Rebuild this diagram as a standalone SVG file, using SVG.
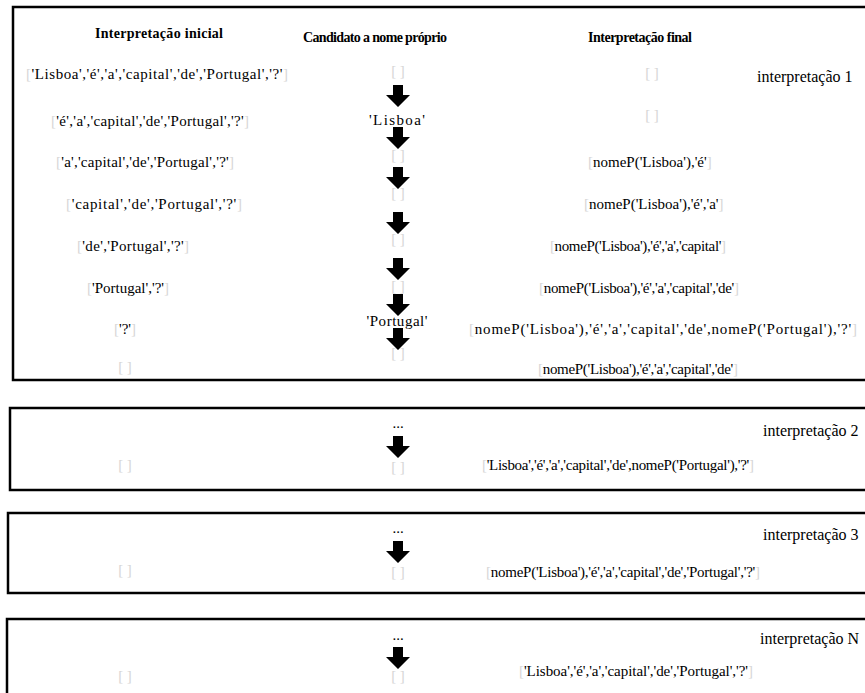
<svg xmlns="http://www.w3.org/2000/svg" width="865" height="693" viewBox="0 0 865 693">
<style>
text{font-family:"Liberation Serif","DejaVu Serif",serif;font-size:15px;font-weight:400;fill:#000}
.h{font-weight:bold;font-size:14px}
.c{text-anchor:middle}
.lab{font-size:16px}
.b{fill:#d6d6d6}
.box{fill:none;stroke:#000;stroke-width:2.5}
.arr{fill:#000}
</style>
<defs>
<path id="arrow" d="M-5,0 H5 V10 H12 L0,22 L-12,10 H-5 Z"/>
</defs>
<g id="box1">
<rect class="box" x="13" y="7" width="870" height="373"/>
<g id="headers">
<text class="h c" x="159" y="38" textLength="128" lengthAdjust="spacing">Interpretação inicial</text>
<text class="h c" x="375" y="42" textLength="144" lengthAdjust="spacing">Candidato a nome próprio</text>
<text class="h c" x="640" y="42" textLength="104" lengthAdjust="spacing">Interpretação final</text>
</g>
<g id="col-initial">
<text class="c" x="157" y="79" textLength="262" lengthAdjust="spacing"><tspan class="b">[</tspan>'Lisboa','é','a','capital','de','Portugal','?'<tspan class="b">]</tspan></text>
<text class="c" x="150" y="126" textLength="198" lengthAdjust="spacing"><tspan class="b">[</tspan>'é','a','capital','de','Portugal','?'<tspan class="b">]</tspan></text>
<text class="c" x="145" y="167" textLength="178" lengthAdjust="spacing"><tspan class="b">[</tspan>'a','capital','de','Portugal','?'<tspan class="b">]</tspan></text>
<text class="c" x="154" y="209" textLength="176" lengthAdjust="spacing"><tspan class="b">[</tspan>'capital','de','Portugal','?'<tspan class="b">]</tspan></text>
<text class="c" x="133" y="251" textLength="112" lengthAdjust="spacing"><tspan class="b">[</tspan>'de','Portugal','?'<tspan class="b">]</tspan></text>
<text class="c" x="128" y="293"><tspan class="b">[</tspan>'Portugal','?'<tspan class="b">]</tspan></text>
<text class="c" x="125" y="334"><tspan class="b">[</tspan>'?'<tspan class="b">]</tspan></text>
<text class="c b" x="125" y="372">[ ]</text>
</g>
<g id="col-candidate">
<text class="c b" x="398" y="76">[ ]</text>
<text class="c" x="397" y="125" textLength="56" lengthAdjust="spacing">'Lisboa'</text>
<text class="c b" x="398" y="160">[ ]</text>
<text class="c b" x="398" y="198">[ ]</text>
<text class="c b" x="398" y="244">[ ]</text>
<text class="c b" x="398" y="291">[ ]</text>
<text class="c" x="397" y="326" textLength="61" lengthAdjust="spacing">'Portugal'</text>
<text class="c b" x="398" y="358">[ ]</text>
</g>
<g id="col-final">
<text class="c b" x="652" y="78">[ ]</text>
<text class="lab" x="757" y="82">interpretação 1</text>
<text class="c b" x="652" y="120">[ ]</text>
<text x="588" y="167"><tspan class="b">[</tspan>nomeP('Lisboa'),'é'<tspan class="b">]</tspan></text>
<text x="584" y="209"><tspan class="b">[</tspan>nomeP('Lisboa'),'é','a'<tspan class="b">]</tspan></text>
<text class="c" x="638" y="251" textLength="176" lengthAdjust="spacing"><tspan class="b">[</tspan>nomeP('Lisboa'),'é','a','capital'<tspan class="b">]</tspan></text>
<text class="c" x="639" y="293" textLength="200" lengthAdjust="spacing"><tspan class="b">[</tspan>nomeP('Lisboa'),'é','a','capital','de'<tspan class="b">]</tspan></text>
<text class="c" x="663" y="334" textLength="388" lengthAdjust="spacing"><tspan class="b">[</tspan>nomeP('Lisboa'),'é','a','capital','de',nomeP('Portugal'),'?'<tspan class="b">]</tspan></text>
<text class="c" x="638" y="374" textLength="200" lengthAdjust="spacing"><tspan class="b">[</tspan>nomeP('Lisboa'),'é','a','capital','de'<tspan class="b">]</tspan></text>
</g>
</g>
<g id="box2">
<rect class="box" x="10" y="408" width="870" height="82"/>
<text class="c b" x="125" y="470">[ ]</text>
<text class="c" x="398" y="428">...</text>
<text class="c b" x="398" y="472">[ ]</text>
<text class="lab" x="763" y="436">interpretação 2</text>
<text class="c" x="618" y="470" textLength="272" lengthAdjust="spacing"><tspan class="b">[</tspan>'Lisboa','é','a','capital','de',nomeP('Portugal'),'?'<tspan class="b">]</tspan></text>
</g>
<g id="box3">
<rect class="box" x="8" y="513" width="870" height="80"/>
<text class="c b" x="125" y="575">[ ]</text>
<text class="c" x="398" y="533">...</text>
<text class="c b" x="398" y="577">[ ]</text>
<text class="lab" x="763" y="540">interpretação 3</text>
<text class="c" x="623" y="577" textLength="274" lengthAdjust="spacing"><tspan class="b">[</tspan>nomeP('Lisboa'),'é','a','capital','de','Portugal','?'<tspan class="b">]</tspan></text>
</g>
<g id="boxN">
<rect class="box" x="7" y="619" width="870" height="90"/>
<text class="c b" x="125" y="681">[ ]</text>
<text class="c" x="398" y="640">...</text>
<text class="c b" x="398" y="681">[ ]</text>
<text class="lab" x="760" y="644">interpretação N</text>
<text class="c" x="636" y="676" textLength="234" lengthAdjust="spacing"><tspan class="b">[</tspan>'Lisboa','é','a','capital','de','Portugal','?'<tspan class="b">]</tspan></text>
</g>
<g id="connectors" class="arr">
<use href="#arrow" x="398" y="85"/>
<use href="#arrow" x="398" y="127"/>
<use href="#arrow" x="398" y="167"/>
<use href="#arrow" x="398" y="212"/>
<use href="#arrow" x="398" y="258"/>
<use href="#arrow" x="398" y="294"/>
<use href="#arrow" x="398" y="328"/>
<use href="#arrow" x="398" y="436"/>
<use href="#arrow" x="398" y="541"/>
<use href="#arrow" x="398" y="647"/>
</g>
</svg>
